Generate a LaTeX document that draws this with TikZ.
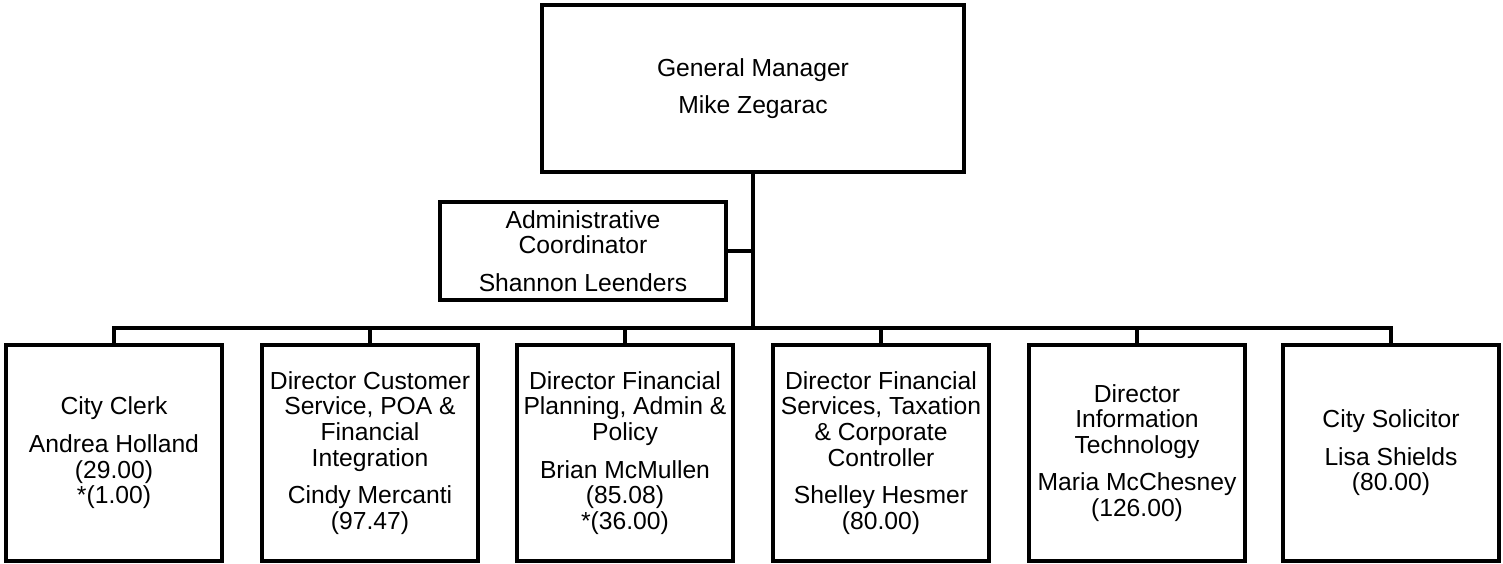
\documentclass[tikz,border=0pt]{standalone}
\usepackage{fontspec}
\setmainfont{Liberation Sans}
\begin{document}
\begin{tikzpicture}[x=0.75pt,y=-0.75pt,
  box/.style={draw, line width=2.8pt, rectangle, inner sep=0pt, align=center,
    font=\fontsize{18.5}{19.2}\selectfont},
  bottombox/.style={box, minimum width=162pt, minimum height=162pt},
  conn/.style={line width=2.8pt}]
\useasboundingbox (0,0) rectangle (1503,564);
\node[box, minimum width=316.5pt, minimum height=125.25pt] (gm) at (753,88.5)
  {General Manager\\[9pt]Mike Zegarac};
\node[box, minimum width=214.5pt, minimum height=73.5pt] (adm) at (583,251)
  {Administrative\\Coordinator\\[9pt]Shannon Leenders};
\node[bottombox] (b1) at (114,453) {City Clerk\\[9pt]Andrea Holland\\(29.00)\\*(1.00)};
\node[bottombox] (b2) at (370,453) {Director Customer\\Service, POA \&\\Financial\\Integration\\[9pt]Cindy Mercanti\\(97.47)};
\node[bottombox] (b3) at (625,453) {Director Financial\\Planning, Admin \&\\Policy\\[9pt]Brian McMullen\\(85.08)\\*(36.00)};
\node[bottombox] (b4) at (881,453) {Director Financial\\Services, Taxation\\\& Corporate\\Controller\\[9pt]Shelley Hesmer\\(80.00)};
\node[bottombox] (b5) at (1137,453) {Director\\Information\\Technology\\[9pt]Maria McChesney\\(126.00)};
\node[bottombox] (b6) at (1391,453) {City Solicitor\\[9pt]Lisa Shields\\(80.00)};
\coordinate (j) at (753,328);
\draw[conn] (gm.south) -- (j);
\draw[conn] (adm.east) -- (adm.east -| gm.south);
\draw[conn] (b1.north) |- (j) -| (b6.north);
\foreach \b in {b2,b3,b4,b5} {
  \draw[conn] (\b.north) -- (\b.north |- j);
}
\end{tikzpicture}
\end{document}
